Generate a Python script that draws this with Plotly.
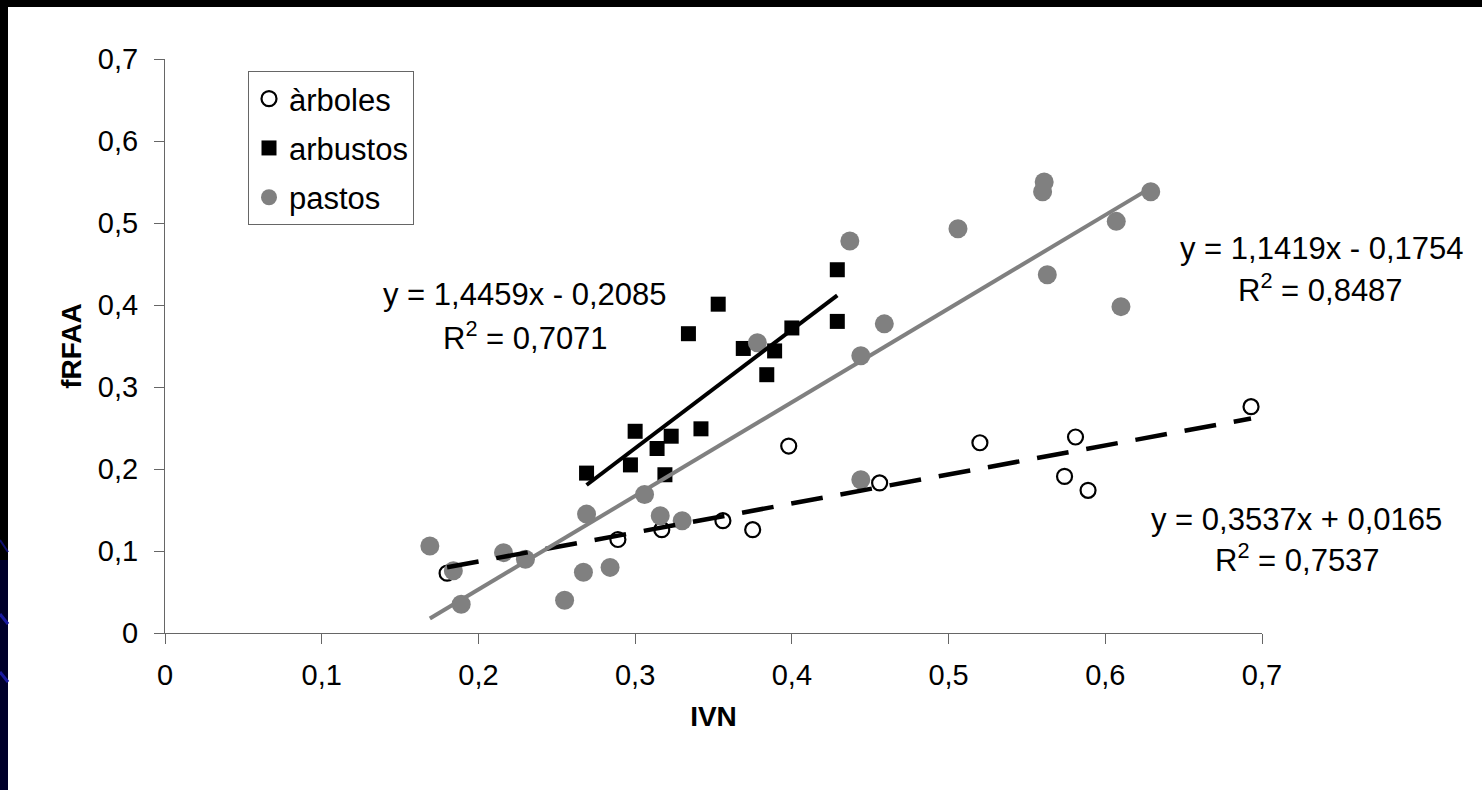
import plotly.graph_objects as go

# ---------------- data ----------------
arboles_x = [0.180, 0.289, 0.317, 0.356, 0.375, 0.398, 0.456, 0.520, 0.574, 0.581, 0.589, 0.693]
arboles_y = [0.073, 0.114, 0.126, 0.137, 0.126, 0.228, 0.183, 0.232, 0.191, 0.239, 0.174, 0.276]

arbustos_x = [0.269, 0.297, 0.300, 0.314, 0.319, 0.323, 0.334, 0.342, 0.353, 0.369, 0.384,
              0.389, 0.400, 0.429, 0.429]
arbustos_y = [0.195, 0.205, 0.246, 0.225, 0.193, 0.240, 0.365, 0.249, 0.401, 0.347, 0.315,
              0.344, 0.372, 0.443, 0.380]

pastos_x = [0.169, 0.184, 0.189, 0.216, 0.230, 0.255, 0.267, 0.269, 0.284, 0.306, 0.316,
            0.330, 0.378, 0.437, 0.444, 0.444, 0.459, 0.506, 0.560, 0.561, 0.563, 0.607,
            0.610, 0.629]
pastos_y = [0.106, 0.076, 0.035, 0.098, 0.090, 0.040, 0.074, 0.145, 0.080, 0.169, 0.143,
            0.137, 0.354, 0.478, 0.338, 0.187, 0.377, 0.493, 0.538, 0.550, 0.437, 0.502,
            0.398, 0.538]

series_names = ["àrboles", "arbustos", "pastos"]
slopes = [0.3537, 1.4459, 1.1419]
intercepts = [0.0165, -0.2085, -0.1754]
r2_values = ["0,7537", "0,7071", "0,8487"]
eq_texts = ["y = 0,3537x + 0,0165", "y = 1,4459x - 0,2085", "y = 1,1419x - 0,1754"]

x_ticks = [0, 0.1, 0.2, 0.3, 0.4, 0.5, 0.6, 0.7]
y_ticks = [0, 0.1, 0.2, 0.3, 0.4, 0.5, 0.6, 0.7]

# ---------------- layout geometry ----------------
W, H = 1482, 790
ML, MR, MT, MB = 165, 220, 59, 157
PW, PH = W - ML - MR, H - MT - MB


def px_x(p):
    return (p - ML) / PW


def px_y(p):
    return (H - MB - p) / PH


FONT = "Liberation Sans, Arial, sans-serif"
GRAY = "#808080"

fig = go.Figure()

# markers
fig.add_trace(go.Scatter(
    x=arboles_x, y=arboles_y, mode="markers", name=series_names[0],
    legendgroup="a",
    marker=dict(symbol="circle", size=15, color="white", line=dict(color="black", width=2.2)),
))
fig.add_trace(go.Scatter(
    x=arbustos_x, y=arbustos_y, mode="markers", name=series_names[1],
    legendgroup="b",
    marker=dict(symbol="square", size=15, color="black", line=dict(width=0)),
))
fig.add_trace(go.Scatter(
    x=pastos_x, y=pastos_y, mode="markers", name=series_names[2],
    legendgroup="c",
    marker=dict(symbol="circle", size=19, color=GRAY, line=dict(width=0)),
))

# trendlines
all_x = [arboles_x, arbustos_x, pastos_x]
styles = [dict(color="black", width=4.5, dash="32px,18px"),
          dict(color="black", width=4),
          dict(color=GRAY, width=4)]
for xs, m, b, st, g in zip(all_x, slopes, intercepts, styles, ["a", "b", "c"]):
    x0, x1 = min(xs), max(xs)
    fig.add_trace(go.Scatter(x=[x0, x1], y=[m * x0 + b, m * x1 + b], mode="lines",
                             line=st, showlegend=False, hoverinfo="skip", legendgroup=g))

# equation annotations (pixel positions of the text centres)
eq_pos = [((1296, 519), (1297, 561)), ((525, 294), (525, 339)), ((1322, 249), (1320, 291))]
annotations = []
for eq, r2, ((ex, ey), (rx, ry)) in zip(eq_texts, r2_values, eq_pos):
    annotations.append(dict(text=eq, x=px_x(ex), y=px_y(ey), xref="paper", yref="paper",
                            showarrow=False, xanchor="center", yanchor="middle",
                            font=dict(family=FONT, size=31, color="black")))
    annotations.append(dict(text="R<sup>2</sup> = " + r2, x=px_x(rx), y=px_y(ry - 3),
                            xref="paper", yref="paper",
                            showarrow=False, xanchor="center", yanchor="middle",
                            font=dict(family=FONT, size=31, color="black")))

# slide background pieces
shapes = [
    dict(type="rect", xref="paper", yref="paper", x0=px_x(0), x1=px_x(W), y0=px_y(0), y1=px_y(7),
         fillcolor="black", line=dict(width=0), layer="below"),
    dict(type="rect", xref="paper", yref="paper", x0=px_x(0), x1=px_x(8), y0=px_y(0), y1=px_y(H),
         fillcolor="black", line=dict(width=0), layer="below"),
    dict(type="rect", xref="paper", yref="paper", x0=px_x(0), x1=px_x(8), y0=px_y(560), y1=px_y(H),
         fillcolor="#00002a", line=dict(width=0), layer="below"),
    dict(type="line", xref="paper", yref="paper", x0=px_x(0), x1=px_x(8), y0=px_y(614), y1=px_y(624),
         line=dict(color="#1a1aa0", width=3), layer="below"),
    dict(type="line", xref="paper", yref="paper", x0=px_x(0), x1=px_x(8), y0=px_y(672), y1=px_y(682),
         line=dict(color="#1a1aa0", width=3), layer="below"),
    dict(type="line", xref="paper", yref="paper", x0=px_x(0), x1=px_x(8), y0=px_y(540), y1=px_y(552),
         line=dict(color="#101070", width=2), layer="below"),
]

axis_common = dict(
    range=[0, 0.7], showgrid=False, zeroline=False, showline=True, linecolor="#666666",
    linewidth=1, ticks="outside", ticklen=10, tickwidth=1, tickcolor="#666666",
    tickfont=dict(family=FONT, size=29, color="black"), mirror=False,
)

fig.update_layout(
    width=W, height=H,
    margin=dict(l=ML, r=MR, t=MT, b=MB, pad=0),
    paper_bgcolor="white", plot_bgcolor="white",
    separators=",.",
    xaxis=dict(axis_common, tickvals=x_ticks, ticklabelstandoff=6,
               title=dict(text="<b>IVN</b>", font=dict(family=FONT, size=28, color="black"),
                          standoff=16)),
    yaxis=dict(axis_common, tickvals=y_ticks, ticklabelstandoff=10,
               title=dict(text="<b>fRFAA</b>", font=dict(family=FONT, size=28, color="black"),
                          standoff=8)),
    showlegend=True,
    legend=dict(x=px_x(248), y=px_y(71), xanchor="left", yanchor="top",
                bgcolor="white", bordercolor="#666666", borderwidth=1,
                font=dict(family=FONT, size=31, color="black"),
                tracegroupgap=6, traceorder="grouped", itemwidth=30),
    annotations=annotations,
    shapes=shapes,
)

fig.write_html("out.html")
